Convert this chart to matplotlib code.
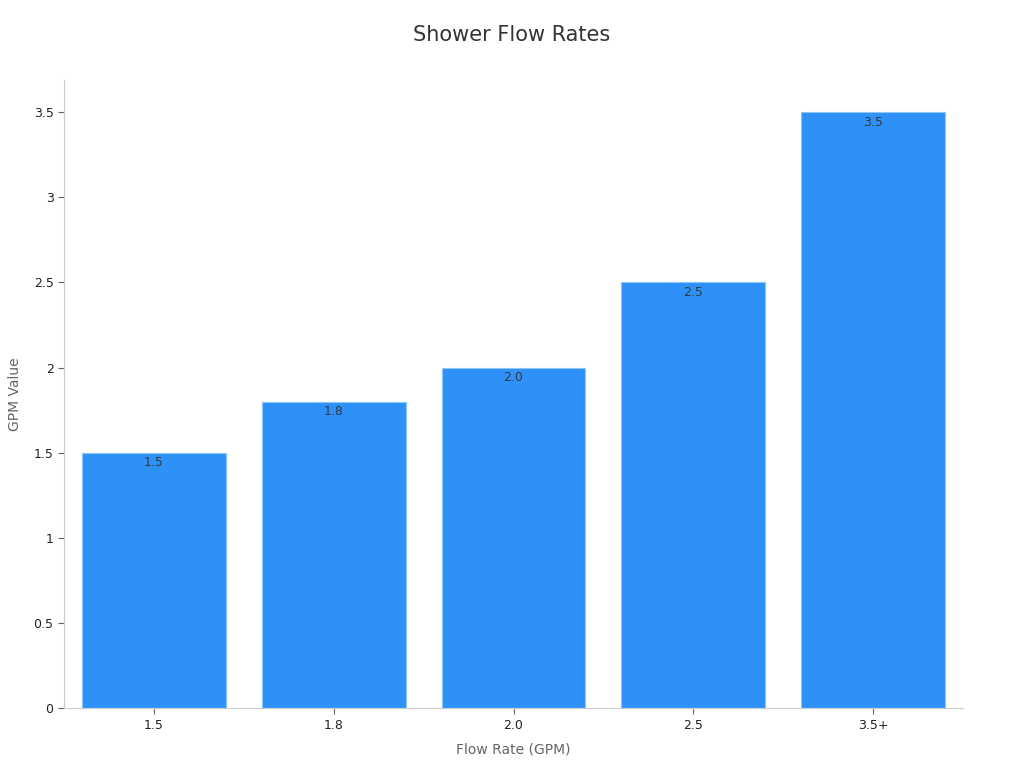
import matplotlib.pyplot as plt
from matplotlib.ticker import FuncFormatter

categories = ["1.5", "1.8", "2.0", "2.5", "3.5+"]
gpm_values = [1.5, 1.8, 2.0, 2.5, 3.5]
bar_labels = ["1.5", "1.8", "2.0", "2.5", "3.5"]

fig = plt.figure(figsize=(10.24, 7.68), dpi=100)
ax = fig.add_axes([0.0625, 0.078, 0.878, 0.818])

x = range(len(categories))
bars = ax.bar(x, gpm_values, width=0.8, color="#2e91f7", edgecolor="#8cc4fb", linewidth=0.8)

for rect, lab in zip(bars, bar_labels):
    ax.text(rect.get_x() + rect.get_width() / 2, rect.get_height() - 0.02, lab,
            ha="center", va="top", fontsize=9, color="#333a44")

ax.set_xlim(-0.5, len(categories) - 0.5)
ax.set_ylim(0, 3.69)
ax.set_xticks(list(x))
ax.set_xticklabels(categories)
ax.set_yticks([0, 0.5, 1, 1.5, 2, 2.5, 3, 3.5])
ax.yaxis.set_major_formatter(FuncFormatter(lambda v, p: f"{v:g}"))

for side in ["top", "right"]:
    ax.spines[side].set_visible(False)
for side in ["left", "bottom"]:
    ax.spines[side].set_color("#cccccc")
ax.tick_params(axis="both", colors="#666666", labelcolor="#222222", labelsize=9, length=4)

ax.set_xlabel("Flow Rate (GPM)", fontsize=10, color="#666666", labelpad=8)
ax.set_ylabel("GPM Value", fontsize=10, color="#666666", labelpad=8)
fig.suptitle("Shower Flow Rates", fontsize=15, color="#333333", y=0.968)

fig.savefig("out.png", dpi=100)
